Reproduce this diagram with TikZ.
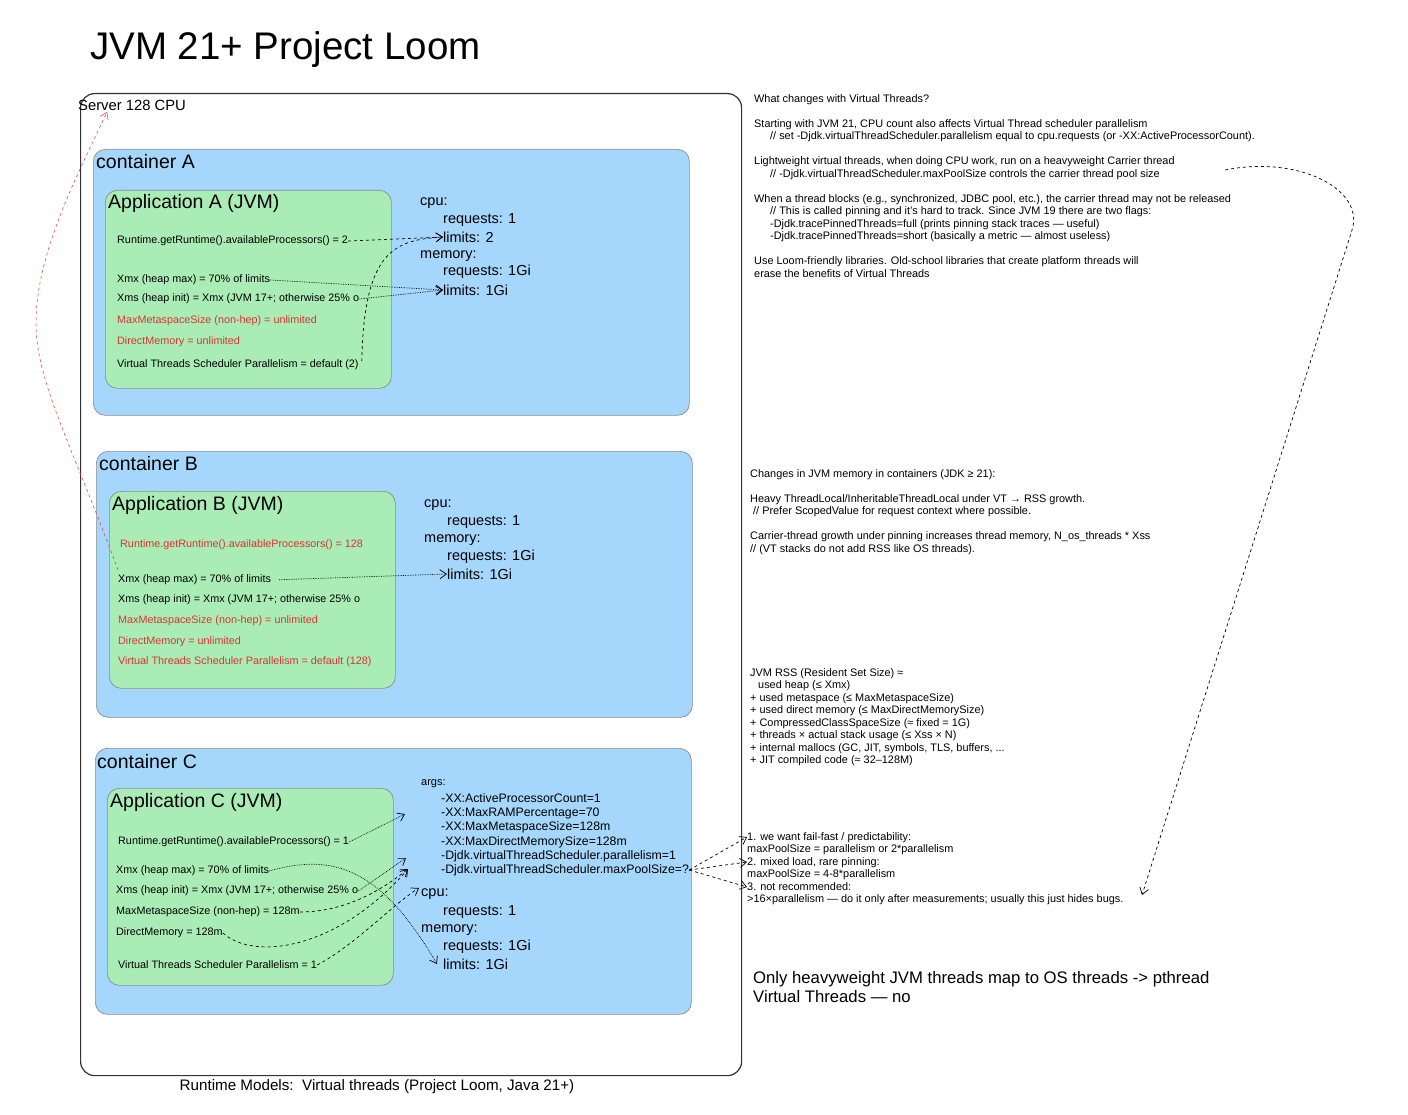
\documentclass[tikz,border=0pt]{standalone}
\usepackage{fontspec}
\setmainfont{Liberation Sans}
\usetikzlibrary{arrows.meta,positioning}
\definecolor{boxblue}{RGB}{165,214,252}
\definecolor{boxgreen}{RGB}{170,236,182}
\definecolor{warnred}{RGB}{224,49,49}
\begin{document}
\begin{tikzpicture}[
    x=1pt, y=-1pt,
    server/.style={draw=black!80, line width=1.2pt, rounded corners=14pt, anchor=north west, inner sep=0},
    container/.style={draw=black!45, fill=boxblue, line width=0.7pt, rounded corners=12pt, anchor=north west, inner sep=0, minimum width=596, minimum height=266},
    app/.style={draw=black!45, fill=boxgreen, line width=0.7pt, rounded corners=12pt, anchor=north west, inner sep=0, minimum width=286, minimum height=198},
    boxtitle/.style={anchor=west, inner sep=0, font=\fontsize{19.5}{22}\selectfont},
    apptitle/.style={anchor=west, inner sep=0, font=\fontsize{19.5}{22}\selectfont},
    jvmline/.style={anchor=west, inner sep=0, font=\fontsize{10.8}{12}\selectfont},
    warn/.style={jvmline, text=warnred},
    res/.style={anchor=west, inner sep=0, font=\fontsize{14.5}{16}\selectfont},
    arg/.style={anchor=west, inner sep=0, font=\fontsize{12.3}{14}\selectfont},
    sidenote/.style={anchor=north west, inner sep=0, align=left, font=\fontsize{10.9}{12.5}\selectfont},
    link/.style={-{Straight Barb[length=6.5pt,width=9pt]}, line width=0.7pt}
  ]
  \useasboundingbox (0,0) rectangle (1408,1115);

  % title and server
  \node[anchor=west, inner sep=0, font=\fontsize{38.5}{44}\selectfont] (title) at (90,50) {JVM 21+ Project Loom};
  \node[server, minimum width=661, minimum height=982] (server) at (80,93) {};
  \node[anchor=west, inner sep=0, font=\fontsize{14.8}{17}\selectfont] (serverlabel) at (78,105) {Server 128 CPU};
  \node[anchor=north, inner sep=0, font=\fontsize{15.2}{17}\selectfont] (caption) at (377,1079) {Runtime Models:\ \ Virtual threads (Project Loom, Java 21+)};

  % container A
  \node[container] (contA) at (93,149) {};
  \node[boxtitle] (labelA) at (96,162) {container A};
  \node[app] (appA) at (105,190) {};
  \node[apptitle] (titleA) at (108,203) {Application A (JVM)};
  \node[jvmline] (rtA) at (117,241) {Runtime.getRuntime().availableProcessors() = 2};
  \node[jvmline] (xmxA) at (117,280) {Xmx (heap max) = 70\% of limits};
  \node[jvmline] (xmsA) at (117,299) {Xms (heap init) = Xmx (JVM 17+; otherwise 25\% o};
  \node[warn] (metaA) at (117,321) {MaxMetaspaceSize (non-hep) = unlimited};
  \node[warn] (directA) at (117,342) {DirectMemory = unlimited};
  \node[jvmline] (vtA) at (117,365) {Virtual Threads Scheduler Parallelism = default (2)};
  \node[res] (cpuA) at (420,203) {cpu:};
  \node[res] (reqcpuA) at (443,220) {requests: 1};
  \node[res] (limcpuA) at (443,237) {limits: 2};
  \node[res] (memA) at (420,256) {memory:};
  \node[res] (reqmemA) at (443,272) {requests: 1Gi};
  \node[res] (limmemA) at (443,290) {limits: 1Gi};
  \draw[link, dashed] (rtA.east) -- (limcpuA.west);
  \draw[link, dashed] ([xshift=3pt,yshift=4pt]vtA.east) .. controls (364,250) and (395,240) .. (limcpuA.west);
  \draw[link, densely dotted] (xmxA.east) -- (limmemA.west);
  \draw[link, densely dotted] (xmsA.east) -- (limmemA.west);

  % container B
  \node[container] (contB) at (96,451) {};
  \node[boxtitle] (labelB) at (99,464) {container B};
  \node[app, minimum height=197] (appB) at (109,491) {};
  \node[apptitle] (titleB) at (112,505) {Application B (JVM)};
  \node[warn] (rtB) at (120,545) {Runtime.getRuntime().availableProcessors() = 128};
  \node[jvmline] (xmxB) at (118,580) {Xmx (heap max) = 70\% of limits};
  \node[jvmline] (xmsB) at (118,600) {Xms (heap init) = Xmx (JVM 17+; otherwise 25\% o};
  \node[warn] (metaB) at (118,621) {MaxMetaspaceSize (non-hep) = unlimited};
  \node[warn] (directB) at (118,642) {DirectMemory = unlimited};
  \node[warn] (vtB) at (118,662) {Virtual Threads Scheduler Parallelism = default (128)};
  \node[res] (cpuB) at (424,505) {cpu:};
  \node[res] (reqcpuB) at (447,522) {requests: 1};
  \node[res] (memB) at (424,540) {memory:};
  \node[res] (reqmemB) at (447,557) {requests: 1Gi};
  \node[res] (limmemB) at (447,574) {limits: 1Gi};
  \draw[link, densely dotted, shorten <=8pt] (xmxB.east) -- (limmemB.west);

  % container C
  \node[container] (contC) at (95,748) {};
  \node[boxtitle] (labelC) at (97,762) {container C};
  \node[app, minimum height=197] (appC) at (107,788) {};
  \node[apptitle] (titleC) at (110,802) {Application C (JVM)};
  \node[jvmline] (rtC) at (118,842) {Runtime.getRuntime().availableProcessors() = 1};
  \node[jvmline] (xmxC) at (116,871) {Xmx (heap max) = 70\% of limits};
  \node[jvmline] (xmsC) at (116,891) {Xms (heap init) = Xmx (JVM 17+; otherwise 25\% o};
  \node[jvmline] (metaC) at (116,912) {MaxMetaspaceSize (non-hep) = 128m};
  \node[jvmline] (directC) at (116,933) {DirectMemory = 128m};
  \node[jvmline] (vtC) at (118,965) {Virtual Threads Scheduler Parallelism = 1};
  \node[arg, font=\fontsize{11}{13}\selectfont] (argsC) at (421,784) {args:};
  \node[arg] (apcC) at (441,798) {-XX:ActiveProcessorCount=1};
  \node[arg] (ramC) at (441,813) {-XX:MaxRAMPercentage=70};
  \node[arg] (mmsC) at (441,827) {-XX:MaxMetaspaceSize=128m};
  \node[arg] (mdmC) at (441,842) {-XX:MaxDirectMemorySize=128m};
  \node[arg] (parC) at (441,856) {-Djdk.virtualThreadScheduler.parallelism=1};
  \node[arg] (poolC) at (441,870) {-Djdk.virtualThreadScheduler.maxPoolSize=?};
  \node[res] (cpuC) at (421,894) {cpu:};
  \node[res] (reqcpuC) at (443,912) {requests: 1};
  \node[res] (memC) at (421,930) {memory:};
  \node[res] (reqmemC) at (443,947) {requests: 1Gi};
  \node[res] (limmemC) at (443,964) {limits: 1Gi};
  \coordinate (inapc) at (405,814);
  \coordinate (inmem) at (406,858);
  \coordinate (indirect) at (408,869);
  \draw[link, densely dotted] (rtC.east) -- (inapc);
  \draw[link, densely dotted] (xmxC.east) .. controls (335,852) and (382,870) .. ([xshift=-6pt]limmemC.west);
  \draw[link, densely dotted] (xmsC.east) -- (inmem);
  \draw[link, dashed] (metaC.east) .. controls (350,912) and (388,885) .. (indirect);
  \draw[link, dashed] (directC.east) .. controls (255,962) and (340,948) .. (indirect);
  \draw[link, dashed] (vtC.east) .. controls (355,945) and (392,905) .. ([xshift=-2pt,yshift=6pt]cpuC.west);

  % pool size options
  \node[sidenote] (opt1) at (747,832) {1. we want fail-fast / predictability:\\maxPoolSize = parallelism or 2*parallelism};
  \node[sidenote] (opt2) at (747,857) {2. mixed load, rare pinning:\\maxPoolSize = 4-8*parallelism};
  \node[sidenote] (opt3) at (747,882) {3. not recommended:\\>16×parallelism — do it only after measurements; usually this just hides bugs.};
  \draw[link, dashed] (poolC.east) -- ([yshift=-5pt]opt1.north west);
  \draw[link, dashed] (poolC.east) -- ([yshift=-5pt]opt2.north west);
  \draw[link, dashed] (poolC.east) -- ([yshift=-5pt]opt3.north west);

  % notes on the right
  \node[sidenote] (vtnotes) at (754,94) {What changes with Virtual Threads?\\[12.5pt]
    Starting with JVM 21, CPU count also affects Virtual Thread scheduler parallelism\\
    \hspace*{16pt}// set -Djdk.virtualThreadScheduler.parallelism equal to cpu.requests (or -XX:ActiveProcessorCount).\\[12.5pt]
    Lightweight virtual threads, when doing CPU work, run on a heavyweight Carrier thread\\
    \hspace*{16pt}// -Djdk.virtualThreadScheduler.maxPoolSize controls the carrier thread pool size\\[12.5pt]
    When a thread blocks (e.g., synchronized, JDBC pool, etc.), the carrier thread may not be released\\
    \hspace*{16pt}// This is called pinning and it's hard to track. Since JVM 19 there are two flags:\\
    \hspace*{16pt}-Djdk.tracePinnedThreads=full (prints pinning stack traces — useful)\\
    \hspace*{16pt}-Djdk.tracePinnedThreads=short (basically a metric — almost useless)\\[12.5pt]
    Use Loom-friendly libraries. Old-school libraries that create platform threads will\\
    erase the benefits of Virtual Threads};
  \node[sidenote] (memnotes) at (750,469) {Changes in JVM memory in containers (JDK ≥ 21):\\[12.5pt]
    Heavy ThreadLocal/InheritableThreadLocal under VT → RSS growth.\\
    \hspace*{3pt}// Prefer ScopedValue for request context where possible.\\[12.5pt]
    Carrier-thread growth under pinning increases thread memory, N\_os\_threads * Xss\\
    // (VT stacks do not add RSS like OS threads).};
  \node[sidenote] (rssnotes) at (750,668) {JVM RSS (Resident Set Size) ≈\\
    \hspace*{8pt}used heap (≤ Xmx)\\
    + used metaspace (≤ MaxMetaspaceSize)\\
    + used direct memory (≤ MaxDirectMemorySize)\\
    + CompressedClassSpaceSize (≈ fixed = 1G)\\
    + threads × actual stack usage (≤ Xss × N)\\
    + internal mallocs (GC, JIT, symbols, TLS, buffers, ...\\
    + JIT compiled code (≈ 32–128M)};
  \node[sidenote, font=\fontsize{16.7}{19}\selectfont] (osnote) at (753,971) {Only heavyweight JVM threads map to OS threads -> pthread\\Virtual Threads — no};

  % long arrow and red arrow
  \coordinate (carriertail) at (1225,170);
  \coordinate (bugshead) at (1142,895);
  \draw[link, dashed] (carriertail) .. controls (1300,155) and (1365,190) .. (1352,230) -- (bugshead);
  \coordinate (rtBtail) at (118,570);
  \draw[link, dashed, warnred, line width=0.5pt] (rtBtail) .. controls (70,440) and (35,380) .. (36,320) .. controls (37,250) and (80,170) .. ([xshift=29pt,yshift=-7pt]serverlabel.west);
\end{tikzpicture}
\end{document}
